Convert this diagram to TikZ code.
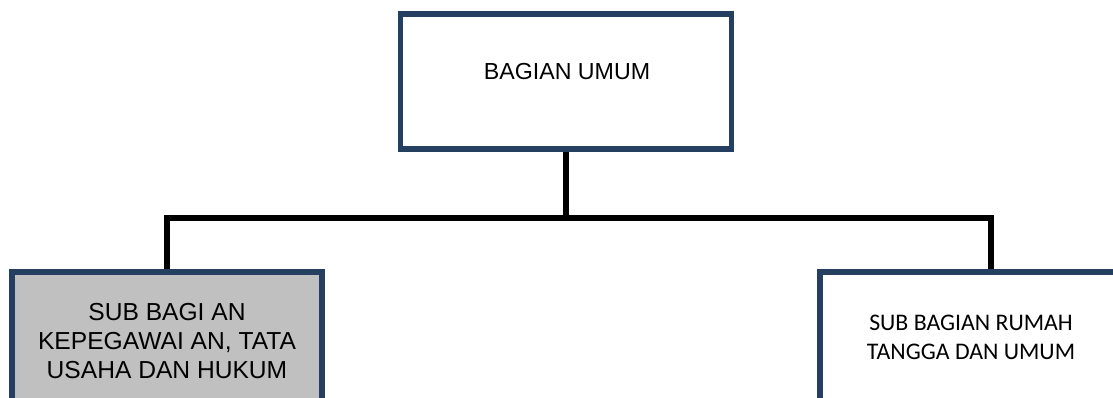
\documentclass[tikz,border=0pt]{standalone}
\usepackage{fontspec}
\setmainfont{Liberation Sans}
\newfontfamily\calib{Carlito}
\definecolor{boxblue}{HTML}{243F60}
\definecolor{boxgray}{HTML}{C0C0C0}
\begin{document}
\begin{tikzpicture}[x=1pt,y=-1pt,
  orgbox/.style={draw=boxblue,line width=5.5pt,rectangle,inner sep=0pt},
  conn/.style={draw=black,line width=5.5pt},
  lbl/.style={inner sep=0pt,align=center}]
\useasboundingbox (0,0) rectangle (1113,398);
\clip (0,0) rectangle (1113,398);
\node[orgbox,minimum width=331pt,minimum height=135pt] (top) at (566,81.5) {};
\node[lbl,font=\fontsize{23.2}{29}\selectfont] (toptext) at (567,72) {BAGIAN UMUM};
\node[orgbox,fill=boxgray,minimum width=310pt,minimum height=148pt] (left) at (167,346) {};
\node[lbl,font=\fontsize{24.6}{29}\selectfont] (lefttext) at (167,341) {SUB BAGI AN\\KEPEGAWAI AN, TATA\\USAHA DAN HUKUM};
\node[orgbox,minimum width=342pt,minimum height=148pt] (right) at (991,346) {};
\node[lbl,font=\calib\fontsize{23.8}{29}\selectfont] (righttext) at (971,337.5) {SUB BAGIAN RUMAH\\TANGGA DAN UMUM};
\coordinate (junction) at (566,218);
\draw[conn] (top.south) -- (junction);
\draw[conn] (left.north) |- (junction) -| (right.north);
\end{tikzpicture}
\end{document}
